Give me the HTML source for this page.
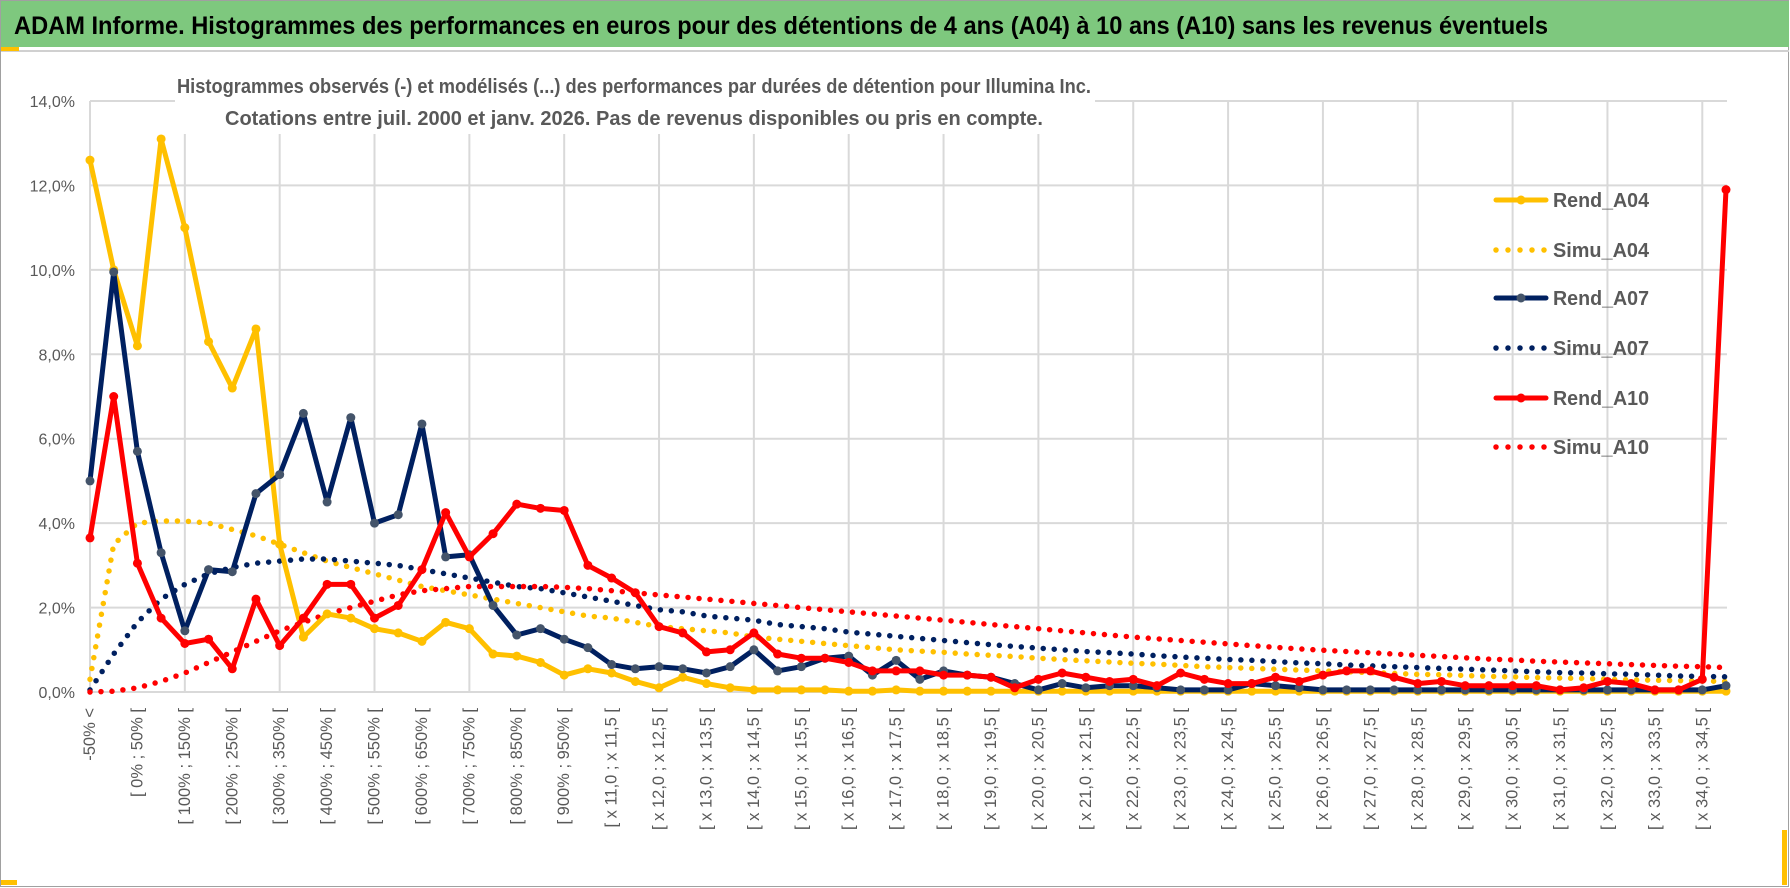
<!DOCTYPE html>
<html><head><meta charset="utf-8"><style>
html,body{margin:0;padding:0;background:#fff;width:1790px;height:888px;overflow:hidden}
svg{display:block;font-family:"Liberation Sans",sans-serif}
</style></head><body>
<svg id="chart" width="1790" height="888" viewBox="0 0 1790 888" xmlns="http://www.w3.org/2000/svg">
<rect x="0.5" y="0.5" width="1788" height="886" fill="#fff" stroke="#a0a0a0"/>
<rect x="1" y="1" width="1788" height="46" fill="#7ec87e"/>
<line x1="1" y1="51" x2="1789" y2="51" stroke="#d0d0d0" stroke-width="2"/>
<rect x="1" y="47" width="18" height="4" fill="#ffc000"/>
<rect x="1" y="880" width="16" height="5" fill="#ffc000"/>
<rect x="1782" y="830" width="5" height="55" fill="#ffc000"/>
<text x="14" y="34" font-size="25" font-weight="bold" fill="#000" textLength="1534" lengthAdjust="spacingAndGlyphs">ADAM Informe. Histogrammes des performances en euros pour des détentions de 4 ans (A04) à 10 ans (A10) sans les revenus éventuels</text>
<g id="grid"></g>
<rect x="175" y="64" width="920" height="70" fill="#fff"/>
<text x="634" y="93" font-size="20" font-weight="bold" fill="#595959" text-anchor="middle" textLength="914" lengthAdjust="spacingAndGlyphs">Histogrammes observés (-) et modélisés (...) des performances par durées de détention pour Illumina Inc.</text>
<text x="634" y="125" font-size="20" font-weight="bold" fill="#595959" text-anchor="middle" textLength="818" lengthAdjust="spacingAndGlyphs">Cotations entre juil. 2000 et janv. 2026. Pas de revenus disponibles ou pris en compte.</text>
<g id="yticks"></g>
<g id="xticks"></g>
<g id="series"></g>
<g id="legend"></g>
</svg>
<script>
const categories = ["-50% <","[ -50% ; 0% [","[ 0% ; 50% [","[ 50% ; 100% [","[ 100% ; 150% [","[ 150% ; 200% [","[ 200% ; 250% [","[ 250% ; 300% [","[ 300% ; 350% [","[ 350% ; 400% [","[ 400% ; 450% [","[ 450% ; 500% [","[ 500% ; 550% [","[ 550% ; 600% [","[ 600% ; 650% [","[ 650% ; 700% [","[ 700% ; 750% [","[ 750% ; 800% [","[ 800% ; 850% [","[ 850% ; 900% [","[ 900% ; 950% [","[ 950% ; 1000% [","[ x 11,0 ; x 11,5 [","[ x 11,5 ; x 12,0 [","[ x 12,0 ; x 12,5 [","[ x 12,5 ; x 13,0 [","[ x 13,0 ; x 13,5 [","[ x 13,5 ; x 14,0 [","[ x 14,0 ; x 14,5 [","[ x 14,5 ; x 15,0 [","[ x 15,0 ; x 15,5 [","[ x 15,5 ; x 16,0 [","[ x 16,0 ; x 16,5 [","[ x 16,5 ; x 17,0 [","[ x 17,0 ; x 17,5 [","[ x 17,5 ; x 18,0 [","[ x 18,0 ; x 18,5 [","[ x 18,5 ; x 19,0 [","[ x 19,0 ; x 19,5 [","[ x 19,5 ; x 20,0 [","[ x 20,0 ; x 20,5 [","[ x 20,5 ; x 21,0 [","[ x 21,0 ; x 21,5 [","[ x 21,5 ; x 22,0 [","[ x 22,0 ; x 22,5 [","[ x 22,5 ; x 23,0 [","[ x 23,0 ; x 23,5 [","[ x 23,5 ; x 24,0 [","[ x 24,0 ; x 24,5 [","[ x 24,5 ; x 25,0 [","[ x 25,0 ; x 25,5 [","[ x 25,5 ; x 26,0 [","[ x 26,0 ; x 26,5 [","[ x 26,5 ; x 27,0 [","[ x 27,0 ; x 27,5 [","[ x 27,5 ; x 28,0 [","[ x 28,0 ; x 28,5 [","[ x 28,5 ; x 29,0 [","[ x 29,0 ; x 29,5 [","[ x 29,5 ; x 30,0 [","[ x 30,0 ; x 30,5 [","[ x 30,5 ; x 31,0 [","[ x 31,0 ; x 31,5 [","[ x 31,5 ; x 32,0 [","[ x 32,0 ; x 32,5 [","[ x 32,5 ; x 33,0 [","[ x 33,0 ; x 33,5 [","[ x 33,5 ; x 34,0 [","[ x 34,0 ; x 34,5 [","[ x 34,5 ; x 35,0 ["];
const yTicks = [0,2,4,6,8,10,12,14];
const yTickLabels = ["0,0%","2,0%","4,0%","6,0%","8,0%","10,0%","12,0%","14,0%"];
const rendA04 = [12.6,10.0,8.2,13.1,11.0,8.3,7.2,8.6,3.5,1.3,1.85,1.75,1.5,1.4,1.2,1.65,1.5,0.9,0.85,0.7,0.4,0.55,0.45,0.25,0.1,0.35,0.2,0.1,0.05,0.05,0.05,0.05,0.02,0.02,0.05,0.02,0.02,0.02,0.02,0.02,0.02,0.02,0.02,0.02,0.02,0.02,0.02,0.02,0.02,0.02,0.02,0.02,0.02,0.02,0.02,0.02,0.02,0.02,0.02,0.02,0.02,0.02,0.02,0.02,0.02,0.02,0.02,0.02,0.02,0.02];
const simuA04 = [0.3,3.5,4.0,4.05,4.05,4.0,3.85,3.7,3.5,3.3,3.1,2.95,2.8,2.65,2.5,2.4,2.3,2.2,2.1,2.0,1.9,1.8,1.75,1.65,1.55,1.5,1.45,1.4,1.3,1.25,1.2,1.15,1.1,1.05,1.0,0.97,0.94,0.9,0.87,0.84,0.8,0.77,0.74,0.71,0.68,0.66,0.63,0.6,0.58,0.56,0.54,0.52,0.5,0.48,0.46,0.44,0.42,0.41,0.39,0.37,0.36,0.34,0.33,0.32,0.3,0.29,0.28,0.27,0.26,0.25];
const rendA07 = [5.0,9.95,5.7,3.3,1.45,2.9,2.85,4.7,5.15,6.6,4.5,6.5,4.0,4.2,6.35,3.2,3.25,2.05,1.35,1.5,1.25,1.05,0.65,0.55,0.6,0.55,0.45,0.6,1.0,0.5,0.6,0.8,0.85,0.4,0.75,0.3,0.5,0.4,0.35,0.2,0.05,0.2,0.1,0.15,0.15,0.1,0.05,0.05,0.05,0.2,0.15,0.1,0.05,0.05,0.05,0.05,0.05,0.05,0.05,0.05,0.05,0.05,0.05,0.05,0.05,0.05,0.05,0.05,0.05,0.15];
const simuA07 = [0.05,0.9,1.65,2.2,2.55,2.8,2.95,3.05,3.1,3.15,3.15,3.1,3.05,3.0,2.9,2.8,2.7,2.6,2.5,2.45,2.35,2.25,2.15,2.05,1.95,1.9,1.8,1.75,1.7,1.6,1.55,1.5,1.42,1.37,1.32,1.27,1.22,1.17,1.12,1.08,1.04,1.0,0.96,0.93,0.9,0.86,0.83,0.8,0.77,0.75,0.72,0.69,0.67,0.64,0.62,0.6,0.58,0.56,0.54,0.52,0.5,0.48,0.46,0.45,0.43,0.42,0.4,0.38,0.37,0.36];
const rendA10 = [3.65,7.0,3.05,1.75,1.15,1.25,0.55,2.2,1.1,1.75,2.55,2.55,1.75,2.05,2.9,4.25,3.2,3.75,4.45,4.35,4.3,3.0,2.7,2.35,1.55,1.4,0.95,1.0,1.4,0.9,0.8,0.8,0.7,0.5,0.5,0.5,0.4,0.4,0.35,0.1,0.3,0.45,0.35,0.25,0.3,0.15,0.45,0.3,0.2,0.2,0.35,0.25,0.4,0.5,0.5,0.35,0.2,0.25,0.15,0.15,0.15,0.15,0.05,0.1,0.25,0.2,0.05,0.05,0.3,11.9];
const simuA10 = [0.0,0.02,0.1,0.25,0.45,0.7,0.95,1.2,1.45,1.65,1.85,2.0,2.15,2.3,2.4,2.45,2.5,2.5,2.5,2.5,2.48,2.45,2.4,2.35,2.3,2.25,2.2,2.15,2.1,2.05,2.0,1.95,1.9,1.85,1.8,1.75,1.7,1.65,1.6,1.55,1.5,1.45,1.4,1.35,1.3,1.26,1.22,1.18,1.14,1.1,1.06,1.02,0.99,0.96,0.93,0.9,0.87,0.84,0.81,0.78,0.76,0.73,0.71,0.69,0.67,0.65,0.63,0.61,0.6,0.58];

const NS = "http://www.w3.org/2000/svg";
const X0 = 90, X1 = 1726, Y0 = 692, YTOP = 101, YMAX = 14;
function xPos(i){ return X0 + i * (X1 - X0) / (categories.length - 1); }
function yPos(v){ return Y0 - v / YMAX * (Y0 - YTOP); }
function mk(tag, attrs, parent){ const e = document.createElementNS(NS, tag); for (const k in attrs) e.setAttribute(k, attrs[k]); parent.appendChild(e); return e; }

const grid = document.getElementById('grid');
yTicks.forEach(function(t){
  const l = mk('line', {x1: X0, x2: X1 + 1, y1: yPos(t), y2: yPos(t), stroke: '#d9d9d9', 'stroke-width': 2}, grid);
  
  
});
for (let i = 0; i < categories.length; i += 4) {
  const l = mk('line', {x1: xPos(i), x2: xPos(i), y1: YTOP, y2: Y0, stroke: '#d9d9d9', 'stroke-width': 2}, grid);
  
  
}

const yt = document.getElementById('yticks');
yTicks.forEach(function(t, k){
  const tx = mk('text', {x: 75, y: yPos(t) + 6, 'font-size': 16, fill: '#595959', 'text-anchor': 'end'}, yt);
  tx.textContent = yTickLabels[k];
  
  
});

const xt = document.getElementById('xticks');
categories.forEach(function(c, i){
  if (i % 2) return;
  const x = xPos(i), y = 708;
  const tx = mk('text', {x: x, y: y, 'font-size': 16.5, fill: '#595959', 'text-anchor': 'end', 'dominant-baseline': 'central', transform: 'rotate(-90 ' + x + ' ' + y + ')'}, xt);
  tx.textContent = c;
  
  
});

const seriesG = document.getElementById('series');
const defs = [
  {name: 'simu-a04', data: simuA04, color: '#ffc000', dotted: true},
  {name: 'simu-a07', data: simuA07, color: '#002060', dotted: true},
  {name: 'simu-a10', data: simuA10, color: '#ff0000', dotted: true},
  {name: 'rend-a04', data: rendA04, color: '#ffc000', marker: '#ffc000'},
  {name: 'rend-a07', data: rendA07, color: '#002060', marker: '#44546a'},
  {name: 'rend-a10', data: rendA10, color: '#ff0000', marker: '#ff0000'}
];
defs.forEach(function(s){
  const g = mk('g', {}, seriesG);
  
  
  const pts = s.data.map(function(v, i){ return xPos(i).toFixed(1) + ',' + yPos(v).toFixed(1); }).join(' ');
  const attrs = {points: pts, fill: 'none', stroke: s.color, 'stroke-linejoin': 'round'};
  if (s.dotted) { attrs['stroke-width'] = 5.5; attrs['stroke-dasharray'] = '0 11'; attrs['stroke-linecap'] = 'round'; }
  else { attrs['stroke-width'] = 5; }
  const pl = mk('polyline', attrs, g);
  
  
  if (s.marker) {
    s.data.forEach(function(v, i){
      const c = mk('circle', {cx: xPos(i), cy: yPos(v), r: 4.5, fill: s.marker}, g);
      
      
    });
  }
});

const legendItems = [
  {label: 'Rend_A04', color: '#ffc000', marker: '#ffc000', y: 200},
  {label: 'Simu_A04', color: '#ffc000', dotted: true, y: 250},
  {label: 'Rend_A07', color: '#002060', marker: '#44546a', y: 298},
  {label: 'Simu_A07', color: '#002060', dotted: true, y: 348},
  {label: 'Rend_A10', color: '#ff0000', marker: '#ff0000', y: 398},
  {label: 'Simu_A10', color: '#ff0000', dotted: true, y: 447}
];
const lg = document.getElementById('legend');
legendItems.forEach(function(it){
  const g = mk('g', {}, lg);
  
  
  const a = {x1: 1496, x2: 1546, y1: it.y, y2: it.y, stroke: it.color};
  if (it.dotted) { a['stroke-width'] = 5.5; a['stroke-dasharray'] = '0 12'; a['stroke-linecap'] = 'round'; }
  else { a['stroke-width'] = 5; a['stroke-linecap'] = 'round'; }
  mk('line', a, g);
  if (it.marker) mk('circle', {cx: 1521, cy: it.y, r: 4.5, fill: it.marker}, g);
  const t = mk('text', {x: 1553, y: it.y + 7, 'font-size': 20, 'font-weight': 'bold', fill: '#595959', textLength: 96, lengthAdjust: 'spacingAndGlyphs'}, g);
  t.textContent = it.label;
});
</script>
</body></html>
